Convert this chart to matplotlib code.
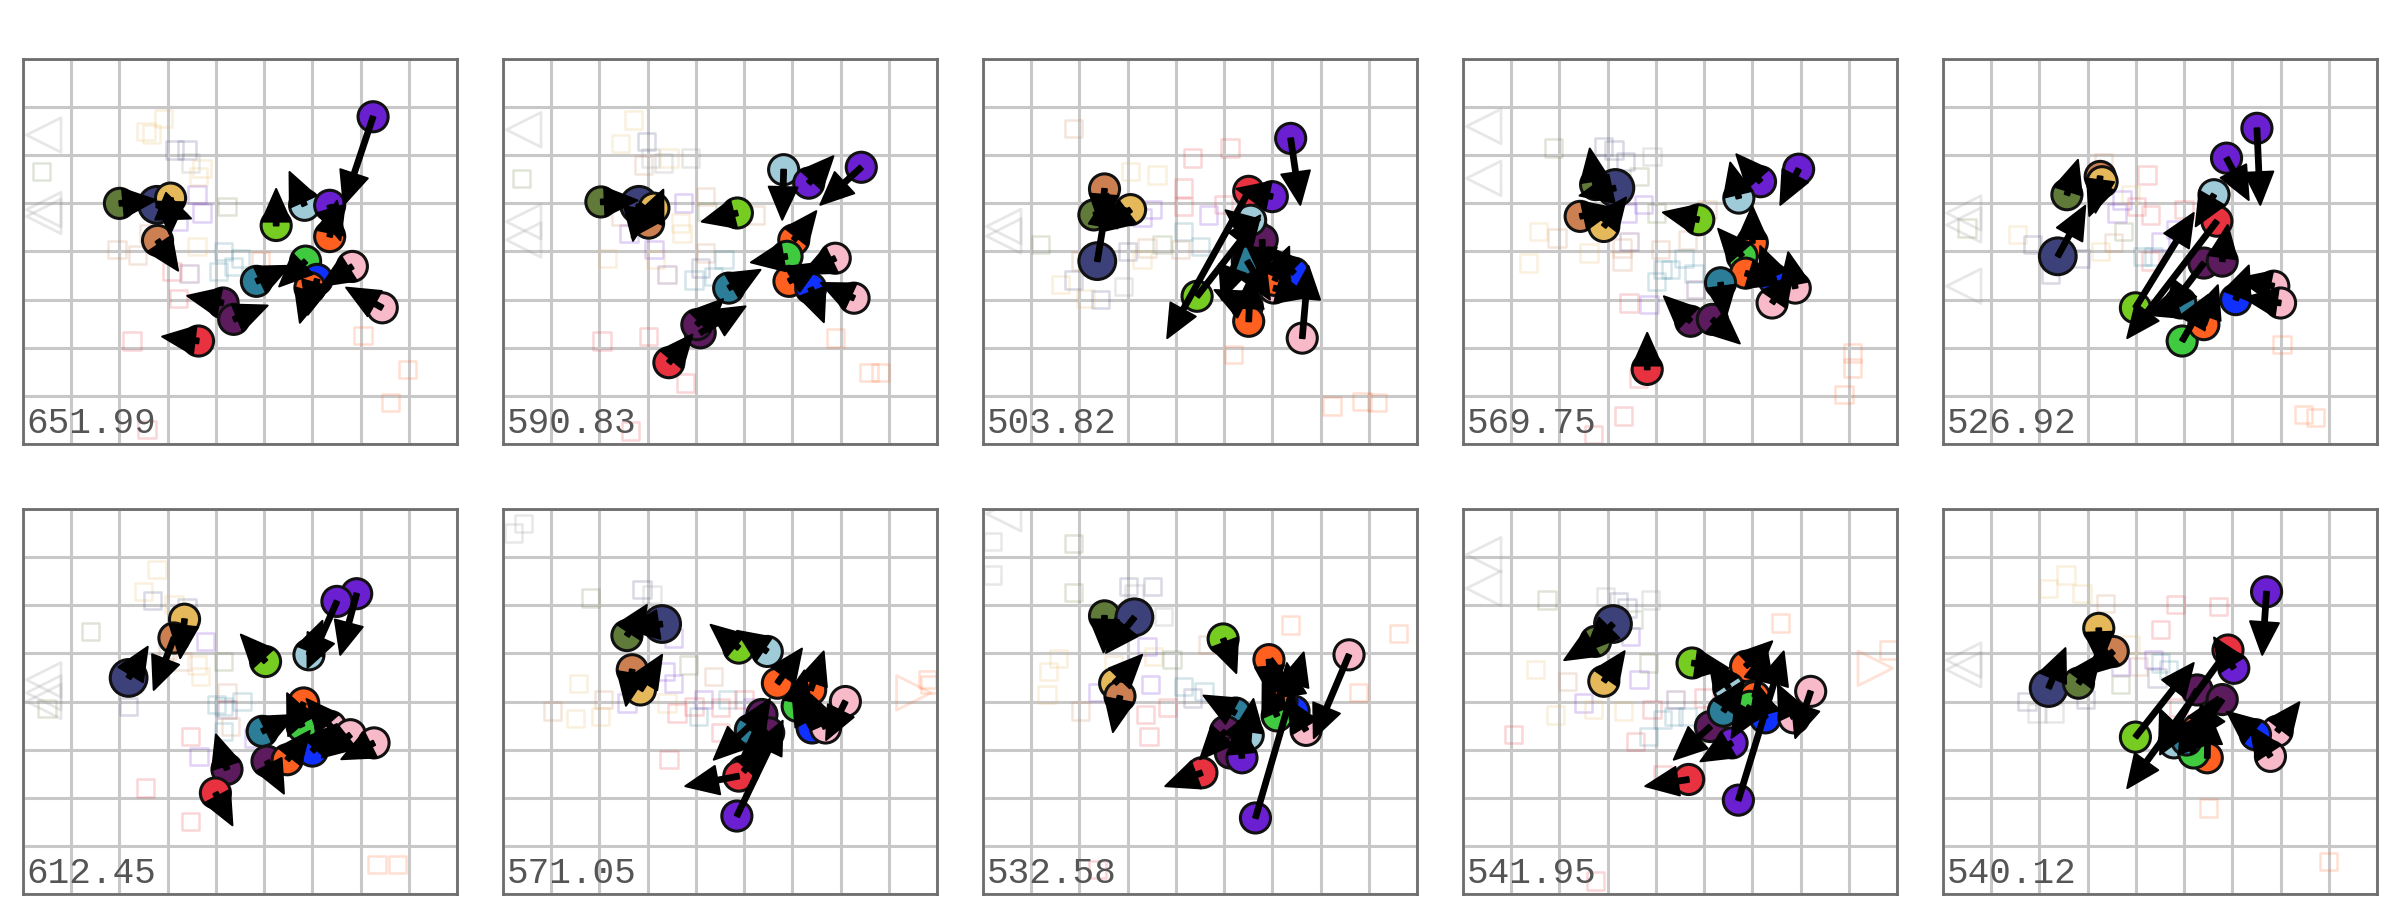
import math
import matplotlib
matplotlib.use("Agg")
import matplotlib.pyplot as plt
from matplotlib.patches import FancyArrow

# ---------------- data ----------------
LABELS = ["651.99", "590.83", "503.82", "569.75", "526.92",
          "612.45", "571.05", "532.58", "541.95", "540.12"]

# circles: (x, y, colour, arrow-tip x, arrow-tip y)  -- grid units, y downward
CIRCLES_1 = [(7.26, 1.20, "purple", 6.65, 3.03), (5.84, 3.04, "lightblue", 5.65, 2.62),
             (6.36, 3.04, "purple", 6.50, 3.50), (5.25, 3.46, "lime", 5.25, 3.22),
             (6.36, 3.69, "orange", 6.45, 3.25), (5.86, 4.20, "green", 5.60, 4.45),
             (6.10, 4.58, "blue", 5.95, 5.15), (6.83, 4.31, "pink", 6.45, 4.55),
             (7.45, 5.17, "pink", 6.70, 4.75), (4.84, 4.62, "teal", 5.35, 4.38),
             (4.15, 5.07, "plum", 3.80, 5.00), (4.37, 5.41, "plum", 5.03, 5.14),
             (3.64, 5.86, "red", 3.15, 5.80), (2.00, 3.00, "olive", 2.55, 2.95),
             (2.78, 3.03, "navy", 3.20, 3.20), (3.06, 2.89, "gold", 3.05, 3.35),
             (2.79, 3.77, "copper", 3.15, 4.30), (5.95, 4.75, "orange", 5.85, 5.10)]
CIRCLES_2 = [(7.43, 2.25, "purple", 6.58, 3.03), (5.82, 2.30, "lightblue", 5.79, 3.34),
             (6.34, 2.58, "purple", 6.55, 2.35), (4.86, 3.20, "lime", 4.45, 3.30),
             (6.03, 3.76, "orange", 6.35, 3.35), (5.89, 4.10, "green", 5.30, 4.20),
             (5.93, 4.62, "orange", 6.30, 4.40), (6.38, 4.76, "blue", 6.55, 5.20),
             (6.89, 4.14, "pink", 6.35, 4.40), (7.28, 4.97, "pink", 6.80, 4.75),
             (4.68, 4.76, "teal", 5.34, 4.38), (4.09, 5.69, "plum", 5.03, 5.14),
             (4.02, 5.52, "plum", 4.45, 5.10), (3.44, 6.31, "red", 3.90, 5.76),
             (2.03, 2.97, "olive", 2.50, 2.95), (2.82, 3.03, "navy", 2.70, 3.75),
             (3.13, 3.10, "gold", 2.90, 3.40), (3.02, 3.41, "copper", 3.20, 3.00)]
CIRCLES_3 = [(6.38, 1.65, "purple", 6.58, 3.03), (5.51, 2.75, "red", 3.82, 5.80),
             (6.00, 2.86, "purple", 5.50, 2.75), (2.52, 2.70, "copper", 2.45, 3.50),
             (3.06, 3.13, "gold", 2.70, 3.40), (2.30, 3.24, "olive", 2.90, 3.15),
             (2.37, 4.20, "navy", 2.60, 2.80), (5.62, 3.62, "plum", 5.10, 3.20),
             (5.79, 3.76, "plum", 5.80, 4.60), (5.48, 4.20, "teal", 5.95, 5.00),
             (5.55, 3.35, "lightblue", 4.95, 5.00), (4.44, 4.93, "lime", 5.75, 3.25),
             (5.48, 5.14, "green", 5.10, 4.95), (5.51, 5.45, "orange", 5.55, 4.50),
             (6.45, 4.45, "blue", 6.10, 4.10), (6.03, 4.76, "pink", 6.60, 4.90),
             (6.62, 5.80, "pink", 6.75, 4.30), (6.05, 4.60, "orange", 6.35, 3.90)]
CIRCLES_4 = [(6.96, 2.29, "purple", 6.58, 3.03), (6.17, 2.55, "purple", 5.95, 2.30),
             (5.72, 2.89, "lightblue", 5.65, 2.60), (4.89, 3.34, "lime", 4.45, 3.25),
             (6.00, 3.82, "orange", 6.00, 3.25), (5.79, 4.10, "green", 5.37, 3.62),
             (5.86, 4.45, "orange", 6.35, 4.60), (6.45, 4.59, "blue", 6.25, 4.10),
             (6.89, 4.76, "pink", 6.80, 4.30), (6.41, 5.07, "pink", 6.70, 4.65),
             (5.34, 4.65, "teal", 5.40, 5.10), (4.72, 5.45, "plum", 4.40, 5.15),
             (5.17, 5.41, "plum", 5.50, 5.70), (3.82, 6.45, "red", 3.82, 5.73),
             (2.75, 2.61, "olive", 2.70, 2.30), (3.16, 2.68, "navy", 2.60, 2.80),
             (2.43, 3.27, "copper", 2.75, 3.20), (2.92, 3.48, "gold", 3.25, 3.05)]
CIRCLES_5 = [(6.51, 1.44, "purple", 6.58, 3.03), (5.88, 2.06, "purple", 6.34, 2.93),
             (5.62, 2.82, "lightblue", 5.40, 3.20), (5.68, 3.37, "red", 3.82, 5.80),
             (3.99, 5.17, "lime", 5.20, 3.20), (4.96, 5.86, "green", 5.50, 4.90),
             (5.41, 5.52, "orange", 5.70, 4.70), (5.41, 4.24, "plum", 4.60, 5.30),
             (5.79, 4.20, "plum", 5.85, 3.80), (4.93, 5.07, "teal", 4.40, 5.25),
             (6.86, 4.72, "pink", 6.30, 4.60), (7.00, 5.07, "pink", 6.50, 5.00),
             (6.07, 5.00, "blue", 6.30, 4.40), (2.57, 2.82, "olive", 2.75, 2.25),
             (3.26, 2.44, "copper", 3.20, 2.90), (3.30, 2.55, "gold", 3.15, 2.95),
             (2.38, 4.10, "navy", 2.95, 3.05)]
CIRCLES_6 = [(6.92, 1.76, "purple", 6.58, 3.03), (6.51, 1.92, "purple", 5.90, 3.30),
             (5.93, 3.03, "lightblue", 6.10, 2.60), (5.03, 3.17, "lime", 4.60, 2.70),
             (3.35, 2.29, "gold", 3.26, 3.10), (3.13, 2.68, "copper", 2.71, 3.76),
             (2.19, 3.51, "navy", 2.57, 2.89), (5.82, 4.03, "orange", 5.60, 4.50),
             (5.79, 4.52, "green", 5.60, 4.10), (4.96, 4.62, "teal", 5.40, 4.40),
             (6.38, 4.52, "pink", 6.10, 4.20), (6.79, 4.69, "pink", 6.40, 5.00),
             (7.28, 4.86, "pink", 6.80, 5.10), (6.00, 5.03, "blue", 6.30, 4.70),
             (5.06, 5.24, "plum", 5.30, 5.70), (4.23, 5.41, "plum", 4.10, 5.00),
             (3.99, 5.90, "red", 4.20, 6.30), (5.48, 5.21, "orange", 5.80, 4.80)]
CIRCLES_7 = [(3.30, 2.39, "navy", 2.55, 2.50), (2.57, 2.63, "olive", 2.85, 2.20),
             (2.68, 3.34, "copper", 2.60, 3.80), (2.85, 3.76, "gold", 3.30, 3.03),
             (4.89, 2.89, "lime", 4.60, 2.65), (5.48, 2.96, "lightblue", 5.10, 2.70),
             (5.69, 3.62, "orange", 6.20, 2.90), (6.38, 3.76, "orange", 6.65, 2.96),
             (7.10, 4.00, "pink", 6.70, 4.80), (6.41, 4.55, "blue", 6.00, 3.80),
             (6.69, 4.55, "pink", 6.40, 3.90), (5.37, 4.27, "plum", 4.37, 5.21),
             (5.51, 4.65, "plum", 5.00, 5.10), (5.13, 4.59, "teal", 5.50, 4.00),
             (4.99, 5.45, "purple", 5.40, 5.00), (4.89, 5.55, "red", 3.78, 5.76),
             (4.85, 6.38, "purple", 5.80, 4.40), (6.10, 4.10, "green", 6.20, 3.60)]
CIRCLES_8 = [(2.52, 2.22, "olive", 2.50, 2.95), (3.14, 2.25, "navy", 2.55, 2.99),
             (4.98, 2.70, "lime", 5.20, 3.27), (2.73, 3.62, "gold", 3.30, 3.03),
             (2.84, 3.89, "copper", 2.75, 4.35), (5.93, 3.13, "orange", 6.00, 3.95),
             (7.59, 3.03, "pink", 6.86, 4.76), (5.24, 4.24, "teal", 4.80, 4.00),
             (5.03, 4.62, "plum", 4.50, 5.20), (5.13, 5.07, "plum", 5.60, 4.20),
             (5.37, 5.17, "purple", 5.30, 4.40), (4.54, 5.48, "red", 3.78, 5.76),
             (5.65, 6.42, "purple", 6.65, 2.98), (6.45, 4.20, "blue", 6.30, 3.20),
             (6.20, 4.00, "orange", 6.00, 3.10), (6.10, 4.30, "green", 5.80, 3.60),
             (5.50, 4.70, "lightblue", 5.60, 4.00), (6.70, 4.60, "pink", 6.40, 4.10)]
CIRCLES_9 = [(3.11, 2.39, "navy", 2.55, 2.95), (2.75, 2.75, "olive", 2.50, 2.90),
             (2.92, 3.58, "gold", 3.30, 3.03), (4.75, 3.20, "lime", 5.24, 3.27),
             (5.86, 3.27, "orange", 6.20, 2.95), (5.51, 3.72, "lightblue", 5.30, 3.40),
             (7.21, 3.79, "pink", 6.89, 4.76), (6.27, 4.34, "blue", 6.10, 3.70),
             (6.86, 4.34, "pink", 6.60, 3.80), (5.13, 4.52, "plum", 4.37, 5.21),
             (5.58, 4.86, "purple", 5.00, 5.20), (4.68, 5.62, "red", 3.78, 5.76),
             (5.71, 6.05, "purple", 6.65, 2.96), (6.05, 3.90, "orange", 6.30, 2.90),
             (5.95, 4.10, "green", 5.60, 4.70), (5.40, 4.20, "teal", 5.80, 3.60)]
CIRCLES_10 = [(6.71, 1.72, "purple", 6.62, 3.03), (5.91, 2.93, "red", 3.82, 5.80),
              (6.03, 3.31, "purple", 5.80, 2.95), (3.23, 2.48, "gold", 3.25, 3.05),
              (3.53, 2.96, "copper", 2.95, 3.45), (2.19, 3.72, "navy", 2.54, 2.89),
              (2.81, 3.62, "olive", 3.20, 3.10), (3.99, 4.74, "lime", 5.20, 3.20),
              (4.79, 4.86, "lightblue", 4.60, 4.40), (5.48, 5.17, "orange", 5.50, 4.20),
              (5.20, 5.07, "green", 5.00, 4.50), (5.27, 3.76, "plum", 4.50, 5.10),
              (5.79, 3.96, "plum", 5.20, 4.80), (6.93, 4.62, "pink", 7.25, 4.20),
              (6.79, 5.14, "pink", 6.50, 4.70), (6.48, 4.69, "blue", 6.00, 4.30),
              (5.27, 4.59, "orange", 5.70, 3.90), (5.05, 4.80, "teal", 5.50, 4.20)]

# faint squares: (x, y, colour)
SQUARES_1 = [(2.92, 1.24, "gold"), (2.66, 1.56, "gold"), (2.55, 1.50, "gold"), (3.14, 1.89, "navy"),
             (3.40, 1.89, "navy"), (3.47, 2.16, "gray"), (3.71, 2.27, "gold"), (3.64, 2.44, "gold"),
             (0.39, 2.34, "olive"), (3.61, 2.82, "purple"), (3.71, 3.20, "purple"), (3.23, 3.37, "purple"),
             (4.23, 3.06, "olive"), (2.61, 3.62, "copper"), (1.95, 3.96, "copper"), (2.37, 4.07, "copper"),
             (3.61, 3.89, "gold"), (4.16, 4.00, "teal"), (4.51, 4.14, "teal"), (4.06, 4.41, "teal"),
             (4.37, 4.31, "teal"), (4.92, 4.20, "orange"), (3.44, 4.45, "plum"), (3.09, 4.41, "red"),
             (3.23, 4.97, "red"), (2.26, 5.86, "red"), (7.05, 5.75, "orange"), (7.98, 6.45, "orange"),
             (7.62, 7.14, "orange"), (2.57, 7.70, "red")]
SQUARES_2 = [(2.71, 1.27, "gold"), (2.43, 1.75, "gold"), (2.97, 1.72, "navy"), (3.06, 2.06, "gray"),
             (2.92, 2.20, "copper"), (3.33, 2.16, "gray"), (3.44, 2.06, "gold"), (3.89, 2.06, "gray"),
             (0.39, 2.48, "olive"), (3.75, 2.99, "purple"), (4.20, 2.85, "copper"), (4.23, 3.17, "olive"),
             (5.24, 3.24, "copper"), (3.68, 3.41, "gold"), (3.71, 3.62, "gold"), (2.61, 3.62, "purple"),
             (2.43, 3.27, "copper"), (3.13, 3.96, "purple"), (3.16, 4.17, "gold"), (2.16, 4.14, "gold"),
             (4.20, 4.03, "copper"), (3.40, 4.48, "plum"), (4.09, 4.34, "navy"), (4.58, 4.17, "teal"),
             (3.96, 4.59, "teal"), (4.37, 4.52, "teal"), (2.05, 5.86, "red"), (3.02, 5.76, "red"),
             (3.78, 6.73, "red"), (6.89, 5.80, "orange"), (7.59, 6.52, "orange"), (7.83, 6.52, "orange"),
             (2.64, 7.73, "red")]
SQUARES_3 = [(1.88, 1.44, "copper"), (4.34, 2.06, "red"), (5.12, 1.85, "red"), (3.06, 2.34, "gold"),
             (3.61, 2.41, "gold"), (4.16, 2.68, "red"), (4.16, 3.06, "red"), (4.99, 3.03, "red"),
             (4.68, 3.24, "purple"), (3.51, 3.13, "purple"), (3.30, 3.30, "purple"), (4.16, 3.58, "teal"),
             (4.51, 3.90, "teal"), (4.09, 3.96, "copper"), (3.71, 3.86, "olive"), (3.40, 3.93, "copper"),
             (2.99, 4.00, "navy"), (3.30, 4.17, "gold"), (1.19, 3.86, "olive"), (2.02, 4.20, "copper"),
             (1.60, 4.69, "gold"), (1.88, 4.59, "navy"), (2.92, 4.72, "gray"), (2.12, 4.97, "gold"),
             (2.43, 5.00, "navy"), (5.20, 6.14, "orange"), (7.24, 7.21, "orange"), (7.86, 7.11, "orange"),
             (8.17, 7.14, "orange")]
SQUARES_4 = [(1.88, 1.85, "olive"), (2.92, 1.82, "navy"), (3.13, 1.89, "navy"), (3.37, 2.13, "navy"),
             (3.92, 2.03, "gray"), (3.65, 2.44, "olive"), (3.40, 3.20, "purple"), (3.75, 3.03, "purple"),
             (4.02, 3.20, "olive"), (5.06, 3.13, "copper"), (1.57, 3.58, "gold"), (1.95, 3.72, "copper"),
             (1.36, 4.24, "gold"), (2.61, 4.03, "gold"), (3.30, 3.93, "copper"), (3.30, 4.20, "copper"),
             (3.44, 3.79, "plum"), (4.09, 3.96, "copper"), (4.65, 3.76, "copper"), (4.58, 4.14, "teal"),
             (4.13, 4.38, "teal"), (4.30, 4.38, "teal"), (4.02, 4.62, "teal"), (4.79, 4.45, "teal"),
             (4.82, 4.79, "plum"), (3.44, 5.07, "red"), (3.86, 5.10, "purple"), (8.07, 6.11, "orange"),
             (8.07, 6.42, "orange"), (7.90, 6.97, "orange"), (3.64, 6.63, "red"), (3.33, 7.42, "red"),
             (2.71, 7.80, "red")]
SQUARES_5 = [(3.33, 2.16, "copper"), (4.23, 2.41, "red"), (3.89, 2.82, "gold"), (3.71, 2.93, "purple"),
             (4.02, 3.06, "red"), (4.30, 3.24, "red"), (5.00, 3.13, "red"), (3.61, 3.20, "purple"),
             (4.82, 3.55, "purple"), (3.75, 3.58, "olive"), (4.51, 3.79, "purple"), (0.50, 3.51, "olive"),
             (1.54, 3.65, "gold"), (1.85, 3.86, "navy"), (3.26, 4.00, "gold"), (3.54, 3.82, "copper"),
             (4.13, 4.10, "teal"), (4.37, 4.10, "teal"), (4.30, 4.20, "red"), (2.85, 4.14, "navy"),
             (2.23, 4.48, "navy"), (7.03, 5.93, "orange"), (7.48, 7.39, "orange"), (7.72, 7.45, "orange")]
SQUARES_6 = [(2.78, 1.25, "gold"), (2.50, 1.72, "gold"), (2.68, 1.90, "navy"), (3.13, 1.99, "gold"),
             (3.40, 2.06, "navy"), (1.40, 2.55, "olive"), (3.78, 2.75, "purple"), (4.16, 3.17, "olive"),
             (2.99, 2.93, "copper"), (3.30, 3.17, "copper"), (3.61, 3.24, "gold"), (3.68, 3.48, "gold"),
             (0.50, 4.14, "olive"), (2.19, 4.10, "navy"), (4.23, 3.82, "copper"), (4.16, 4.10, "teal"),
             (4.23, 4.17, "plum"), (4.02, 4.06, "teal"), (4.54, 4.00, "teal"), (4.16, 4.62, "teal"),
             (4.30, 4.52, "copper"), (3.47, 4.72, "red"), (3.65, 5.14, "purple"), (4.79, 4.76, "purple"),
             (2.54, 5.80, "red"), (3.47, 6.49, "red"), (7.34, 7.39, "orange"), (7.76, 7.39, "orange")]
SQUARES_7 = [(0.43, 0.30, "gray"), (0.22, 0.50, "gray"), (2.88, 1.68, "navy"), (3.09, 1.78, "gray"),
             (1.81, 1.85, "olive"), (3.54, 2.68, "purple"), (3.85, 3.24, "olive"), (1.57, 3.62, "gold"),
             (3.37, 3.38, "purple"), (3.54, 3.62, "purple"), (4.37, 3.48, "copper"), (2.09, 3.96, "copper"),
             (2.57, 4.03, "purple"), (1.02, 4.20, "copper"), (1.50, 4.35, "gold"), (2.02, 4.31, "gold"),
             (3.40, 4.03, "gold"), (3.61, 4.24, "red"), (3.96, 4.10, "red"), (4.16, 3.96, "purple"),
             (4.65, 3.96, "teal"), (5.00, 3.96, "red"), (4.06, 4.31, "teal"), (4.51, 4.13, "red"),
             (4.51, 4.65, "red"), (5.17, 4.13, "purple"), (3.44, 5.21, "red"), (8.80, 3.55, "orange"),
             (8.85, 3.65, "orange")]
SQUARES_8 = [(0.19, 0.68, "gray"), (0.19, 1.37, "gray"), (1.88, 0.71, "olive"), (1.88, 1.74, "olive"),
             (3.02, 1.61, "navy"), (3.51, 1.61, "navy"), (3.13, 1.75, "gray"), (3.75, 2.23, "gray"),
             (3.40, 2.86, "purple"), (6.38, 2.41, "orange"), (4.65, 2.82, "copper"), (8.62, 2.58, "orange"),
             (1.57, 3.10, "gold"), (1.36, 3.37, "gold"), (1.33, 3.86, "gold"), (2.71, 3.24, "gold"),
             (3.54, 3.06, "gold"), (3.92, 3.13, "olive"), (3.47, 3.65, "purple"), (2.37, 3.82, "purple"),
             (2.02, 4.20, "copper"), (3.37, 4.27, "red"), (3.44, 4.72, "red"), (3.82, 4.13, "red"),
             (4.16, 3.69, "teal"), (4.58, 3.79, "teal"), (4.34, 3.93, "navy"), (7.79, 3.82, "orange"),
             (2.37, 7.49, "red")]
SQUARES_9 = [(1.74, 1.89, "olive"), (2.95, 1.82, "gray"), (3.23, 1.92, "navy"), (3.40, 2.06, "navy"),
             (3.89, 1.89, "gray"), (3.47, 2.65, "purple"), (3.54, 2.30, "olive"), (3.85, 3.20, "olive"),
             (1.50, 3.34, "gold"), (2.16, 3.58, "copper"), (3.65, 3.55, "purple"), (6.58, 2.37, "orange"),
             (8.83, 2.93, "orange"), (2.50, 4.03, "purple"), (2.71, 4.17, "gold"), (1.92, 4.28, "gold"),
             (3.33, 4.20, "gold"), (3.92, 4.17, "red"), (4.41, 3.96, "plum"), (5.00, 3.93, "red"),
             (4.13, 4.38, "teal"), (4.37, 4.31, "teal"), (4.65, 4.31, "teal"), (3.85, 4.72, "teal"),
             (3.58, 4.83, "red"), (1.05, 4.69, "red"), (4.13, 5.52, "red"), (2.75, 7.73, "red")]
SQUARES_10 = [(2.19, 1.65, "gold"), (2.55, 1.37, "gold"), (2.88, 1.75, "gold"), (3.37, 1.96, "copper"),
              (4.82, 1.99, "red"), (5.72, 2.03, "red"), (4.51, 2.51, "red"), (3.89, 2.82, "gold"),
              (4.37, 3.13, "purple"), (4.06, 3.27, "copper"), (3.68, 3.27, "purple"), (4.51, 3.20, "teal"),
              (4.68, 3.34, "teal"), (4.44, 3.51, "navy"), (3.68, 3.65, "olive"), (4.89, 4.13, "red"),
              (1.74, 4.00, "navy"), (1.95, 4.24, "gray"), (2.30, 4.24, "gray"), (2.95, 3.96, "navy"),
              (5.51, 6.21, "orange"), (8.00, 7.32, "orange")]

# large faint edge triangles: (x, y, direction, colour)
TRIANGLES_1 = [(0.43, 1.58, "<", "gray"), (0.43, 3.13, "<", "gray"), (0.43, 3.27, "<", "gray")]
TRIANGLES_2 = [(0.43, 1.47, "<", "gray"), (0.43, 3.38, "<", "gray"), (0.43, 3.76, "<", "gray")]
TRIANGLES_3 = [(0.43, 3.48, "<", "gray"), (0.43, 3.68, "<", "gray")]
TRIANGLES_4 = [(0.43, 1.40, "<", "gray"), (0.43, 2.48, "<", "gray")]
TRIANGLES_5 = [(0.43, 3.20, "<", "gray"), (0.43, 3.45, "<", "gray"), (0.43, 4.72, "<", "gray")]
TRIANGLES_6 = [(0.43, 3.55, "<", "gray"), (0.43, 3.82, "<", "gray"), (0.43, 4.00, "<", "gray")]
TRIANGLES_7 = [(8.52, 3.82, ">", "orange")]
TRIANGLES_8 = [(0.43, 0.10, "<", "gray")]
TRIANGLES_9 = [(0.43, 0.95, "<", "gray"), (0.43, 1.65, "<", "gray"), (8.55, 3.31, ">", "orange")]
TRIANGLES_10 = [(0.43, 3.14, "<", "gray"), (0.43, 3.34, "<", "gray")]

PALETTE = {"purple": "#6a1fd1", "lightblue": "#9fcbd8", "lime": "#77cc22", "green": "#3fca3f",
           "orange": "#ff6020", "blue": "#1030ff", "pink": "#f8b9c9", "teal": "#2b7d98",
           "plum": "#5c1b5c", "red": "#e8323f", "olive": "#607a3a", "navy": "#3d4179",
           "gold": "#e5b85a", "copper": "#cc8052", "gray": "#8a8a8a"}

PANELS = [
    (CIRCLES_1, SQUARES_1, TRIANGLES_1), (CIRCLES_2, SQUARES_2, TRIANGLES_2),
    (CIRCLES_3, SQUARES_3, TRIANGLES_3), (CIRCLES_4, SQUARES_4, TRIANGLES_4),
    (CIRCLES_5, SQUARES_5, TRIANGLES_5), (CIRCLES_6, SQUARES_6, TRIANGLES_6),
    (CIRCLES_7, SQUARES_7, TRIANGLES_7), (CIRCLES_8, SQUARES_8, TRIANGLES_8),
    (CIRCLES_9, SQUARES_9, TRIANGLES_9), (CIRCLES_10, SQUARES_10, TRIANGLES_10),
]

HEAD_W, HEAD_L, SHAFT_W = 0.60, 0.68, 0.10

# ---------------- drawing ----------------
fig = plt.figure(figsize=(24, 9), dpi=100)
W, H = 2400, 900
for i, (circles, squares, tris) in enumerate(PANELS):
    r, c = divmod(i, 5)
    left = (23 + 480 * c) / W
    top = 59 if r == 0 else 509
    ax = fig.add_axes([left, (H - top - 385) / H, 434 / W, 385 / H])
    ax.set_xlim(0, 9)
    ax.set_ylim(8, 0)
    ax.set_xticks(range(10))
    ax.set_yticks(range(9))
    ax.tick_params(length=0, labelbottom=False, labelleft=False)
    ax.grid(True, color="#c8c8c8", lw=2.2)
    ax.set_axisbelow(True)
    for sp in ax.spines.values():
        sp.set_color("#6e6e6e")
        sp.set_linewidth(2.0)

    # faint squares
    sx = [s[0] for s in squares]
    sy = [s[1] for s in squares]
    sc = [PALETTE[s[2]] for s in squares]
    ax.scatter(sx, sy, marker="s", s=155, facecolors="none", edgecolors=sc,
               linewidths=1.8, alpha=0.2, zorder=2)

    # faint triangles
    for tx, ty, d, col in tris:
        ax.scatter([tx], [ty], marker=d, s=620, facecolors="none",
                   edgecolors=PALETTE[col], linewidths=2.0,
                   alpha=0.2 if col == "gray" else 0.18, zorder=2)

    # circles
    cx = [q[0] for q in circles]
    cy = [q[1] for q in circles]
    cc = [PALETTE[q[2]] for q in circles]
    cs = [700 if q[2] == "navy" else 470 for q in circles]
    ax.scatter(cx, cy, s=cs, c=cc, edgecolors="#111111", linewidths=2.2, zorder=3)

    # arrows (a head is never shorter than its own length: short moves show the full head)
    for x, y, col, tx, ty in circles:
        dx, dy = tx - x, ty - y
        dist = math.hypot(dx, dy)
        if dist < HEAD_L + 0.08:
            k = (HEAD_L + 0.08) / max(dist, 1e-6)
            dx, dy = dx * k, dy * k
        ax.add_patch(FancyArrow(x, y, dx, dy, width=SHAFT_W, head_width=HEAD_W,
                                head_length=HEAD_L, length_includes_head=True,
                                facecolor="black", edgecolor="black", lw=1.4,
                                joinstyle="round", zorder=4))

    ax.text(0.07, 7.77, LABELS[i], family=["Liberation Mono", "DejaVu Sans Mono"],
            fontsize=26, color="#555555", va="baseline", ha="left", zorder=5)

fig.savefig("out.png", dpi=100)
